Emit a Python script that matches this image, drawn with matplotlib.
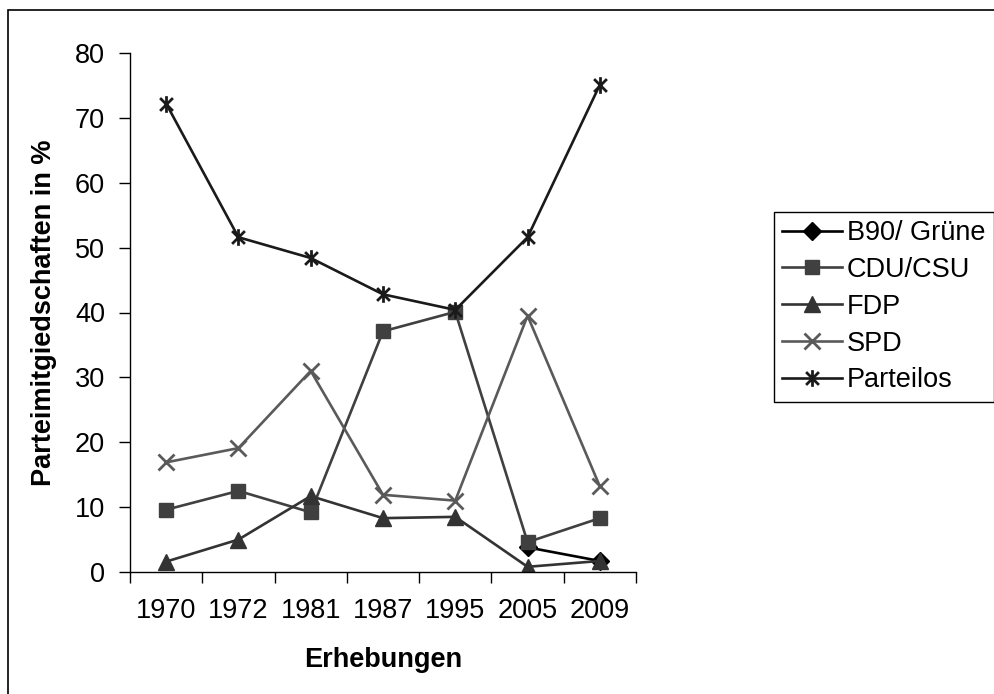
import numpy as np
import matplotlib
matplotlib.use("Agg")
import matplotlib.pyplot as plt
from matplotlib.path import Path
from matplotlib.patches import Rectangle

plt.rcParams['font.family'] = ['Liberation Sans', 'DejaVu Sans']

years = ["1970", "1972", "1981", "1987", "1995", "2005", "2009"]
b90 = [np.nan, np.nan, np.nan, np.nan, np.nan, 3.8, 1.7]
cdu = [9.6, 12.5, 9.2, 37.1, 40.1, 4.6, 8.3]
fdp = [1.6, 5.0, 11.7, 8.3, 8.5, 0.8, 1.7]
spd = [16.9, 19.1, 31.0, 11.9, 11.0, 39.5, 13.2]
parteilos = [72.2, 51.6, 48.4, 42.8, 40.4, 51.6, 75.1]

series_names = ["B90/ Grüne", "CDU/CSU", "FDP", "SPD", "Parteilos"]

W, H = 994, 694
FS = 19.5
fig = plt.figure(figsize=(W / 100, H / 100), dpi=100)
ax = fig.add_axes([130 / W, 1 - 572 / H, (636 - 130) / W, (572 - 53) / H])

star = Path([(-1, -1), (1, 1), (-1, 1), (1, -1), (0, -1.3), (0, 1.3)],
            [Path.MOVETO, Path.LINETO, Path.MOVETO, Path.LINETO, Path.MOVETO, Path.LINETO])

x = np.arange(len(years))
lw = 1.9
ax.plot(x, b90, color='#000000', lw=lw, marker='D', ms=9, mec='#000000', mfc='#000000',
        label=series_names[0])
ax.plot(x, cdu, color='#404040', lw=lw, marker='s', ms=10, mec='#404040', mfc='#404040',
        label=series_names[1])
ax.plot(x, fdp, color='#333333', lw=lw, marker='^', ms=11, mec='#333333', mfc='#333333',
        label=series_names[2])
ax.plot(x, spd, color='#5a5a5a', lw=lw, marker='x', ms=12, mew=2, mec='#5a5a5a',
        label=series_names[3])
ax.plot(x, parteilos, color='#1a1a1a', lw=lw, marker=star, ms=12, mew=2, mec='#1a1a1a',
        label=series_names[4])

ax.set_xlim(-0.5, len(years) - 0.5)
ax.set_ylim(0, 80)
ax.set_yticks(np.arange(0, 81, 10))
ax.set_xticks(x)
ax.set_xticklabels(years)
ax.set_xticks(np.arange(-0.5, len(years), 1.0), minor=True)
ax.tick_params(axis='x', which='major', length=0, pad=19, labelsize=FS)
ax.tick_params(axis='x', which='minor', length=8, width=1, direction='out')
ax.tick_params(axis='y', length=8, width=1, direction='out', pad=10, labelsize=FS)

for s in ['top', 'right']:
    ax.spines[s].set_visible(False)
for s in ['left', 'bottom']:
    ax.spines[s].set_linewidth(1)
    ax.spines[s].set_color('black')

ax.set_xlabel("Erhebungen", fontsize=FS, fontweight='bold', labelpad=16)
ax.set_ylabel("Parteimitgiedschaften in %", fontsize=FS, fontweight='bold', labelpad=13)

leg = fig.legend(loc='upper left', bbox_to_anchor=(774 / W, 1 - 212 / H),
                 fontsize=FS, frameon=True, fancybox=False, edgecolor='black',
                 framealpha=1, handlelength=2.2, labelspacing=0.4,
                 borderpad=0.3, handletextpad=0.2, borderaxespad=0)
leg.get_frame().set_linewidth(1)

fig.patches.append(Rectangle((8 / W, -0.1), 1.2, 1.1 - 10 / H,
                             transform=fig.transFigure, fill=False,
                             edgecolor='black', linewidth=1.2))

fig.savefig("out.png", dpi=100)
